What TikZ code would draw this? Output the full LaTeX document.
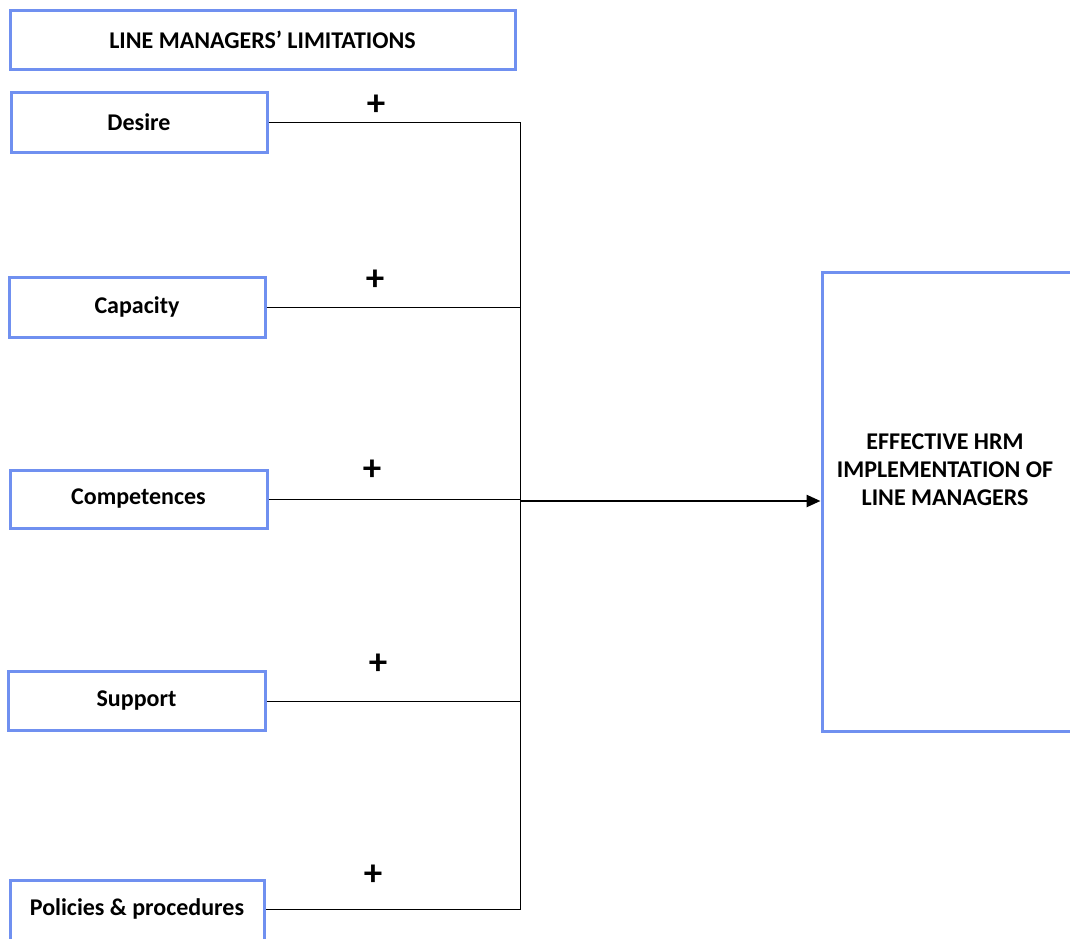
\documentclass[tikz,border=0pt]{standalone}
\usepackage{fontspec}
\setmainfont{Carlito}
\usetikzlibrary{arrows.meta}
\begin{document}
\begin{tikzpicture}[x=1pt,y=-1pt,
  bx/.style={draw=boxblue,line width=3pt,fill=white,inner sep=0pt,font=\bfseries\fontsize{24}{28}\selectfont,align=center},
  lbl/.style={font=\bfseries\fontsize{24}{28}\selectfont,align=center},
  conn/.style={draw=black,line width=1pt},
  plus/.style={font=\bfseries\fontsize{37}{37}\selectfont,inner sep=0pt}]
\definecolor{boxblue}{HTML}{7090F0}
\useasboundingbox (0,0) rectangle (1070,938);
\node[bx,minimum width=505pt,minimum height=59pt] (title) at (262.5,39.5) {LINE MANAGERS’ LIMITATIONS};
\node[bx,minimum width=256pt,minimum height=60pt] (desire) at (139,122) {Desire};
\node[bx,minimum width=256pt,minimum height=60pt] (capacity) at (137,307) {Capacity};
\node[bx,minimum width=257pt,minimum height=58pt] (comp) at (138.5,499) {Competences};
\node[bx,minimum width=257pt,minimum height=59pt] (support) at (136.5,701) {Support};
\node[bx,minimum width=254pt,minimum height=70pt] (policies) at (137,915) {};
\node[lbl] (poltext) at (137,909) {Policies \& procedures};
\node[bx,minimum width=260pt,minimum height=459pt] (eff) at (952,501.5) {};
\node[lbl] (efftext) at (945,470) {EFFECTIVE HRM\\IMPLEMENTATION OF\\LINE MANAGERS};
\coordinate (v1) at (520,122);
\coordinate (v2) at (520,307);
\coordinate (v3) at (520,499);
\coordinate (v4) at (520,701);
\coordinate (v5) at (520,909);
\coordinate (vm) at (520,501);
\draw[conn] (desire.east) -- (v1) -- (v5) -- (policies.east |- v5);
\draw[conn] (capacity.east) -- (v2);
\draw[conn] (comp.east) -- (v3);
\draw[conn] (support.east) -- (v4);
\draw[line width=2.5pt,-{Triangle[length=14pt,width=12pt]}] (vm) -- (eff.west |- vm);
\node[plus] (p1) at (376,105) {+};
\node[plus] (p2) at (375,280) {+};
\node[plus] (p3) at (372,470) {+};
\node[plus] (p4) at (378,664) {+};
\node[plus] (p5) at (373,875) {+};
\end{tikzpicture}
\end{document}
